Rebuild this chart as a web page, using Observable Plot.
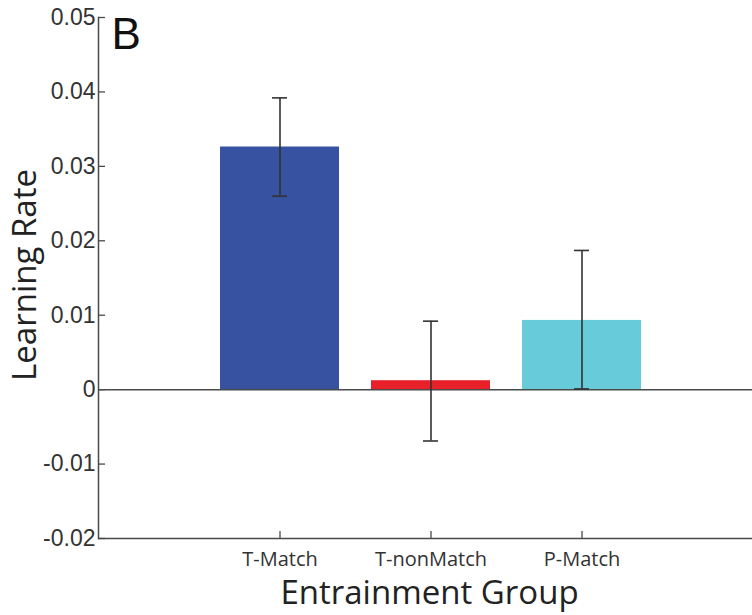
<!DOCTYPE html>
<html>
<head>
<meta charset="utf-8">
<script src="https://cdn.jsdelivr.net/npm/d3@7"></script>
<script src="https://cdn.jsdelivr.net/npm/@observablehq/plot@0.6"></script>
<style>
  html, body { margin: 0; padding: 0; background: #fff; }
  #chart svg { display: block; }
</style>
</head>
<body>
<div id="chart"></div>
<script>
const groups = ["T-Match", "T-nonMatch", "P-Match"];
const rates = [0.0326, 0.0012, 0.0093];
const errLow = [0.0260, -0.0069, 0.0001];
const errHigh = [0.0392, 0.0092, 0.0187];
const colors = ["#3652a0", "#e8202a", "#68cbd9"];
const yTicks = [-0.02, -0.01, 0, 0.01, 0.02, 0.03, 0.04, 0.05];
const yLabel = "Learning Rate";
const xLabel = "Entrainment Group";
const panelLetter = "B";

const data = groups.map((g, i) => ({group: g, rate: rates[i], lo: errLow[i], hi: errHigh[i], color: colors[i]}));

const W = 752, H = 615, ML = 98, MR = 0, MT = 17, MB = 77;
const frameW = W - ML - MR, frameH = H - MT - MB;
const tickLen = 7;
const axisColor = "#4a4a4a";

const chart = Plot.plot({
  width: W,
  height: H,
  marginLeft: ML,
  marginRight: MR,
  marginTop: MT,
  marginBottom: MB,
  style: {background: "#fff"},
  x: {type: "band", domain: groups, paddingInner: 0.21, paddingOuter: 0.757, align: 0.526, label: null},
  y: {domain: [-0.02, 0.05], label: null},
  marks: [
    Plot.barY(data, {x: "group", y: "rate", fill: "color"}),
    Plot.ruleY([0], {stroke: axisColor, strokeWidth: 1.5}),
    Plot.ruleY([-0.02], {stroke: axisColor, strokeWidth: 1.5}),
    Plot.frame({anchor: "left", stroke: axisColor, strokeWidth: 1.5}),
    // inward tick marks
    Plot.ruleY(yTicks, {stroke: axisColor, strokeWidth: 1.3, insetRight: frameW - tickLen}),
    Plot.ruleX(groups, {stroke: axisColor, strokeWidth: 1.3, insetTop: frameH - tickLen}),
    // error bars
    Plot.ruleX(data, {x: "group", y1: "lo", y2: "hi", stroke: "#333", strokeWidth: 1.6}),
    Plot.tickY(data, {x: "group", y: "lo", stroke: "#333", strokeWidth: 1.6, inset: 52}),
    Plot.tickY(data, {x: "group", y: "hi", stroke: "#333", strokeWidth: 1.6, inset: 52}),
    Plot.axisY({
      ticks: yTicks,
      tickFormat: d => d === 0 ? "0" : d.toFixed(2),
      tickSize: 0,
      tickPadding: 3,
      fill: "#333",
      fontSize: 23,
      fontFamily: "Liberation Sans, Arial, sans-serif",
      label: null
    }),
    Plot.axisX({
      tickSize: 0,
      tickPadding: 13,
      fill: "#333",
      fontSize: 20,
      fontFamily: "Open Sans, sans-serif",
      label: null
    }),
    Plot.text([yLabel], {
      frameAnchor: "left", rotate: -90, dx: -73, dy: -3,
      fontSize: 33, fontFamily: "Open Sans, sans-serif", fill: "#222",
      textAnchor: "middle", lineAnchor: "middle"
    }),
    Plot.text([xLabel], {
      frameAnchor: "bottom", dx: 4, dy: 55,
      fontSize: 33, fontFamily: "Open Sans, sans-serif", fill: "#222",
      textAnchor: "middle", lineAnchor: "middle"
    }),
    Plot.text([panelLetter], {
      frameAnchor: "top-left", dx: 13, dy: 0,
      fontSize: 44, fontFamily: "Liberation Sans, Arial, sans-serif", fill: "#111",
      textAnchor: "start", lineAnchor: "top"
    })
  ]
});
document.getElementById("chart").appendChild(chart);
</script>
</body>
</html>
